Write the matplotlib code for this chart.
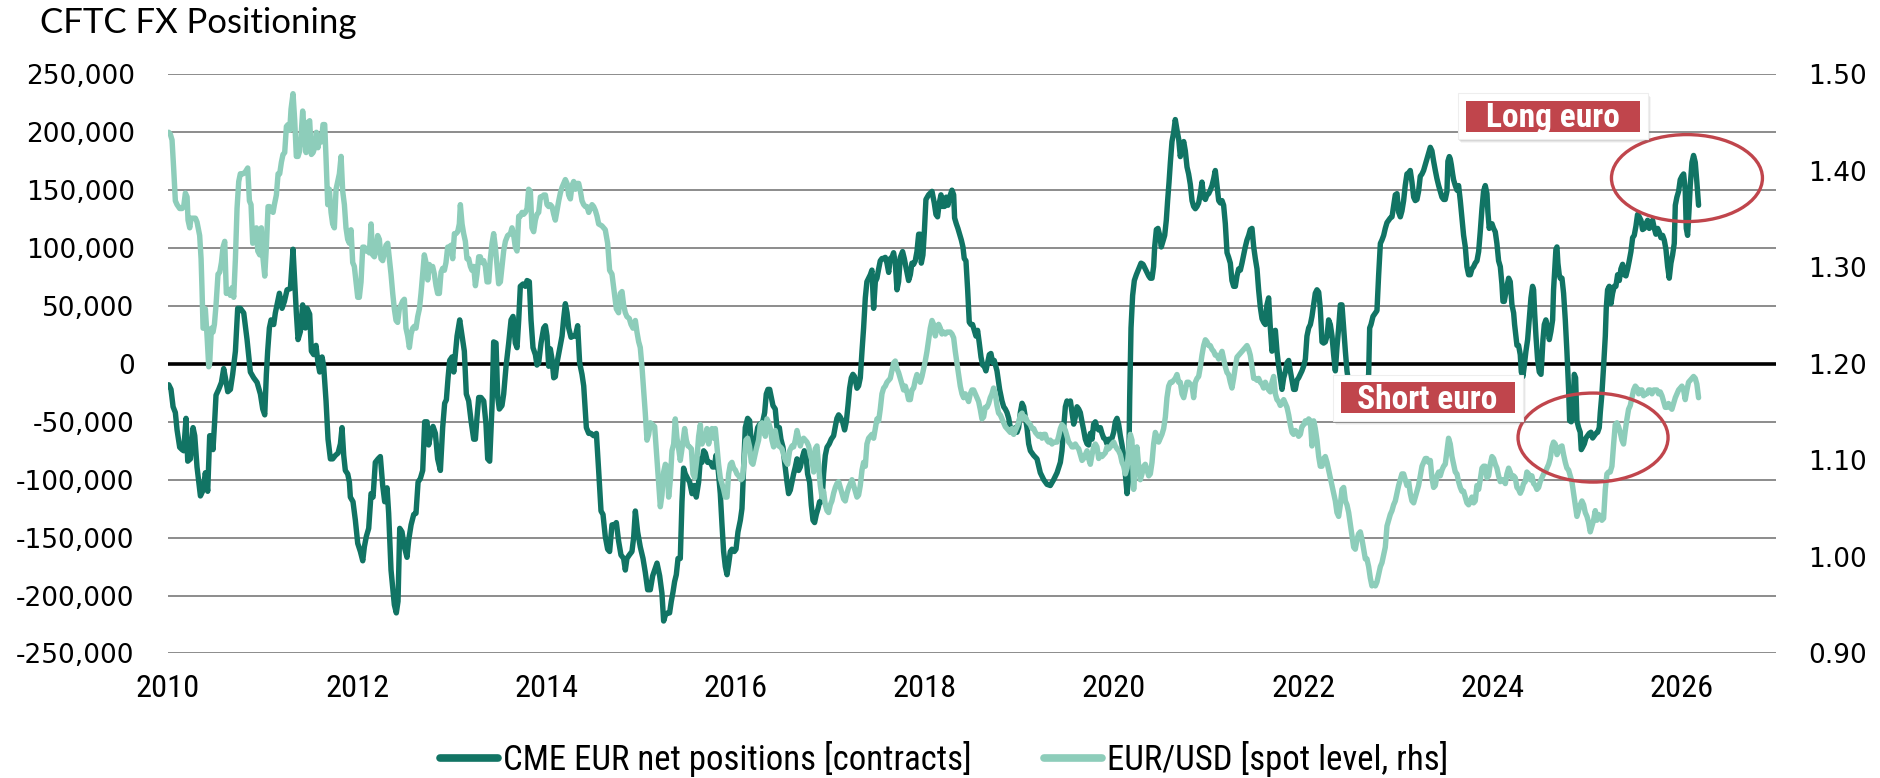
import matplotlib
matplotlib.use("Agg")
import matplotlib.pyplot as plt
from matplotlib import font_manager as fm
from matplotlib.font_manager import FontProperties
from matplotlib.patches import Rectangle, Ellipse
from matplotlib.lines import Line2D
from matplotlib.ticker import FuncFormatter

# ---------------- data ----------------
title = "CFTC FX Positioning"
series_labels = ["CME EUR net positions [contracts]", "EUR/USD [spot level, rhs]"]
year_ticks = list(range(2010, 2027, 2))
left_ticks = list(range(-250000, 250001, 50000))
right_ticks = [0.90, 1.00, 1.10, 1.20, 1.30, 1.40, 1.50]
annotations = ["Long euro", "Short euro"]

# CME EUR net positions, thousands of contracts (year fraction, value)
cme_net_k = [
(2010.008,-18),(2010.032,-22),(2010.054,-37),(2010.078,-42),(2010.096,-57),(2010.124,-72),(2010.149,-74),(2010.166,-75),
(2010.191,-47),(2010.209,-84),(2010.237,-82),(2010.265,-55),(2010.283,-62),(2010.307,-89),(2010.343,-114),(2010.371,-109),
(2010.395,-94),(2010.420,-110),(2010.441,-62),(2010.459,-62),(2010.476,-74),(2010.494,-49),(2010.508,-27),(2010.536,-22),
(2010.565,-16),(2010.589,-4),(2010.607,-12),(2010.632,-24),(2010.660,-22),(2010.684,-9),(2010.713,11),(2010.737,48),
(2010.765,48),(2010.801,44),(2010.836,21),(2010.871,-7),(2010.906,-12),(2010.942,-16),(2010.977,-26),(2011.002,-39),
(2011.023,-44),(2011.040,-9),(2011.054,11),(2011.072,31),(2011.090,38),(2011.118,34),(2011.135,44),(2011.153,51),
(2011.178,61),(2011.206,48),(2011.231,54),(2011.259,64),(2011.294,65),(2011.322,99),(2011.340,71),(2011.357,44),
(2011.375,21),(2011.400,28),(2011.424,51),(2011.453,31),(2011.470,48),(2011.498,43),(2011.516,11),(2011.541,8),
(2011.565,16),(2011.586,1),(2011.604,-7),(2011.629,6),(2011.646,-2),(2011.671,-32),(2011.692,-65),(2011.717,-82),
(2011.741,-82),(2011.770,-79),(2011.798,-77),(2011.823,-69),(2011.840,-55),(2011.858,-79),(2011.875,-92),(2011.900,-95),
(2011.918,-102),(2011.928,-115),(2011.956,-119),(2011.981,-135),(2012.006,-155),(2012.034,-162),(2012.059,-170),(2012.076,-158),
(2012.097,-149),(2012.122,-142),(2012.147,-112),(2012.168,-115),(2012.192,-85),(2012.221,-82),(2012.245,-80),(2012.270,-105),
(2012.291,-119),(2012.316,-107),(2012.333,-129),(2012.358,-178),(2012.393,-208),(2012.414,-215),(2012.432,-205),(2012.450,-142),
(2012.474,-145),(2012.499,-158),(2012.527,-167),(2012.545,-152),(2012.570,-139),(2012.598,-130),(2012.622,-129),(2012.644,-102),
(2012.668,-99),(2012.693,-92),(2012.714,-50),(2012.739,-50),(2012.756,-70),(2012.781,-59),(2012.802,-54),(2012.827,-60),
(2012.851,-82),(2012.880,-92),(2012.904,-55),(2012.925,-34),(2012.943,-31),(2012.961,-12),(2012.978,3),(2013.003,6),
(2013.021,-7),(2013.038,8),(2013.056,24),(2013.084,38),(2013.109,24),(2013.133,11),(2013.154,-26),(2013.179,-32),
(2013.204,-49),(2013.232,-65),(2013.250,-65),(2013.267,-46),(2013.285,-29),(2013.309,-29),(2013.338,-32),(2013.362,-52),
(2013.380,-82),(2013.401,-84),(2013.426,-36),(2013.443,19),(2013.468,18),(2013.486,-29),(2013.503,-39),(2013.531,-36),
(2013.549,-26),(2013.574,-2),(2013.602,18),(2013.627,38),(2013.648,41),(2013.672,18),(2013.690,14),(2013.708,38),
(2013.725,67),(2013.753,69),(2013.778,67),(2013.796,72),(2013.820,71),(2013.838,38),(2013.859,14),(2013.884,8),
(2013.901,-1),(2013.919,1),(2013.944,18),(2013.972,31),(2013.990,33),(2014.007,24),(2014.025,-2),(2014.042,13),
(2014.060,4),(2014.078,-12),(2014.095,-11),(2014.113,1),(2014.141,13),(2014.166,24),(2014.183,39),(2014.201,52),
(2014.219,44),(2014.236,31),(2014.261,23),(2014.282,24),(2014.307,24),(2014.331,33),(2014.352,1),(2014.377,-9),
(2014.395,-19),(2014.423,-55),(2014.448,-60),(2014.472,-60),(2014.500,-62),(2014.529,-60),(2014.553,-92),
(2014.578,-127),(2014.599,-130),(2014.623,-149),(2014.648,-160),(2014.669,-162),(2014.694,-139),(2014.719,-139),(2014.740,-137),
(2014.764,-153),(2014.789,-165),(2014.817,-168),(2014.835,-178),(2014.852,-168),(2014.877,-165),(2014.905,-162),(2014.923,-150),
(2014.941,-127),(2014.965,-145),(2014.993,-158),(2015.022,-168),(2015.046,-180),(2015.071,-195),(2015.099,-195),(2015.124,-183),
(2015.145,-178),(2015.170,-172),(2015.198,-183),(2015.222,-198),(2015.240,-222),(2015.258,-217),(2015.282,-215),(2015.303,-215),
(2015.321,-205),(2015.339,-197),(2015.356,-188),(2015.374,-182),(2015.392,-168),(2015.416,-168),(2015.434,-119),(2015.451,-90),
(2015.469,-95),(2015.494,-99),(2015.515,-102),(2015.540,-112),(2015.564,-105),(2015.585,-115),(2015.610,-102),(2015.628,-82),
(2015.645,-85),(2015.663,-75),(2015.681,-77),(2015.705,-85),(2015.733,-85),(2015.758,-89),(2015.776,-89),(2015.793,-79),
(2015.814,-89),(2015.839,-112),(2015.857,-139),(2015.874,-162),(2015.892,-175),(2015.910,-182),(2015.927,-173),(2015.945,-162),
(2015.962,-160),(2015.987,-162),(2016.005,-160),(2016.026,-145),(2016.051,-135),(2016.068,-125),(2016.086,-89),(2016.103,-55),
(2016.128,-47),(2016.149,-49),(2016.167,-69),(2016.191,-75),(2016.216,-64),(2016.234,-55),(2016.255,-52),(2016.272,-52),
(2016.290,-49),(2016.308,-42),(2016.325,-26),(2016.343,-22),(2016.361,-22),(2016.378,-29),(2016.396,-36),(2016.420,-39),
(2016.438,-55),(2016.463,-55),(2016.480,-65),(2016.502,-72),(2016.519,-85),(2016.544,-102),(2016.561,-112),(2016.579,-109),
(2016.597,-102),(2016.614,-95),(2016.632,-89),(2016.650,-82),(2016.667,-92),(2016.685,-89),(2016.709,-80),(2016.727,-75),
(2016.745,-79),(2016.762,-95),(2016.783,-102),(2016.801,-122),(2016.819,-135),(2016.836,-137),(2016.854,-130),(2016.872,-125),
(2016.889,-119),(2016.914,-119),(2016.931,-95),(2016.949,-79),(2016.967,-72),(2016.991,-69),(2017.012,-65),(2017.037,-62),
(2017.055,-54),(2017.072,-47),(2017.090,-44),(2017.108,-46),(2017.132,-50),(2017.153,-57),(2017.171,-50),(2017.189,-36),
(2017.206,-21),(2017.224,-12),(2017.241,-9),(2017.259,-11),(2017.284,-21),(2017.301,-19),(2017.319,-12),(2017.337,11),
(2017.354,31),(2017.372,57),(2017.389,71),(2017.407,74),(2017.425,77),(2017.442,81),(2017.460,48),(2017.478,71),
(2017.495,74),(2017.513,82),(2017.530,89),(2017.548,91),(2017.566,91),(2017.583,92),(2017.601,87),(2017.619,79),
(2017.636,91),(2017.654,92),(2017.671,96),(2017.689,87),(2017.707,64),(2017.724,71),(2017.742,92),(2017.766,97),
(2017.784,91),(2017.805,82),(2017.830,72),(2017.848,77),(2017.865,87),(2017.883,86),(2017.900,89),(2017.918,97),
(2017.936,112),(2017.953,112),(2017.964,87),(2017.981,94),(2017.996,114),(2018.013,142),(2018.041,146),(2018.077,149),
(2018.101,139),(2018.119,129),(2018.136,127),(2018.154,139),(2018.172,146),(2018.189,136),(2018.210,136),(2018.228,144),
(2018.246,137),(2018.263,144),(2018.288,150),(2018.306,146),(2018.316,126),(2018.334,121),(2018.351,117),(2018.369,112),
(2018.387,107),(2018.404,101),(2018.418,91),(2018.436,89),(2018.454,64),(2018.471,36),(2018.489,34),(2018.506,34),
(2018.524,29),(2018.542,24),(2018.559,29),(2018.577,18),(2018.595,6),(2018.612,-1),(2018.630,-2),(2018.647,-6),
(2018.665,1),(2018.683,8),(2018.700,9),(2018.718,1),(2018.735,3),(2018.764,-6),(2018.792,-22),
(2018.817,-32),(2018.835,-37),(2018.852,-39),(2018.870,-42),(2018.888,-47),(2018.905,-55),(2018.923,-59),(2018.941,-60),
(2018.958,-55),(2018.976,-59),(2018.993,-55),(2019.011,-42),(2019.029,-34),(2019.046,-37),(2019.064,-46),(2019.081,-55),
(2019.099,-69),(2019.117,-75),(2019.152,-79),(2019.187,-82),(2019.222,-94),(2019.258,-100),(2019.293,-104),(2019.328,-105),
(2019.363,-100),(2019.399,-94),(2019.434,-85),(2019.451,-75),(2019.469,-55),(2019.487,-37),(2019.504,-32),(2019.522,-34),
(2019.540,-32),(2019.557,-42),(2019.575,-52),(2019.592,-46),(2019.610,-37),(2019.628,-39),(2019.645,-42),(2019.663,-50),
(2019.680,-57),(2019.698,-65),(2019.716,-69),(2019.733,-70),(2019.751,-60),(2019.769,-65),(2019.786,-52),(2019.804,-50),
(2019.821,-55),(2019.839,-57),(2019.857,-55),(2019.874,-60),(2019.892,-64),(2019.910,-65),(2019.927,-69),(2019.945,-65),
(2019.962,-67),(2019.980,-64),(2019.998,-59),(2020.015,-50),(2020.033,-47),(2020.050,-52),(2020.068,-62),(2020.086,-70),
(2020.103,-79),(2020.121,-95),(2020.139,-112),(2020.156,-99),(2020.167,-29),(2020.181,31),(2020.198,59),(2020.216,72),
(2020.237,77),(2020.262,82),(2020.287,87),(2020.308,86),(2020.332,82),(2020.350,79),(2020.368,76),(2020.385,74),
(2020.403,74),(2020.420,84),(2020.431,101),(2020.449,116),(2020.466,117),(2020.484,111),(2020.501,101),(2020.519,106),
(2020.537,111),(2020.554,124),(2020.568,141),(2020.583,157),(2020.597,174),(2020.614,192),(2020.632,200),(2020.649,211),
(2020.667,202),(2020.685,194),(2020.702,179),(2020.720,187),(2020.738,192),(2020.755,184),(2020.773,170),(2020.790,164),
(2020.808,155),(2020.826,141),(2020.843,136),(2020.861,134),(2020.879,136),(2020.896,139),(2020.914,147),(2020.931,157),
(2020.949,144),(2020.967,142),(2020.984,146),(2021.002,147),(2021.019,150),(2021.037,154),(2021.055,160),(2021.072,167),
(2021.090,154),(2021.108,141),(2021.125,139),(2021.143,141),(2021.160,137),(2021.178,121),(2021.196,96),(2021.213,92),
(2021.231,87),(2021.248,72),(2021.266,67),(2021.284,67),(2021.301,76),(2021.319,82),(2021.337,81),(2021.354,87),
(2021.372,94),(2021.389,101),(2021.407,107),(2021.425,111),(2021.442,116),(2021.460,117),(2021.478,101),(2021.495,91),
(2021.513,82),(2021.530,64),(2021.548,49),(2021.566,39),(2021.583,36),(2021.601,34),(2021.618,51),(2021.636,57),
(2021.654,31),(2021.671,11),(2021.689,28),(2021.707,29),(2021.724,11),(2021.742,-2),(2021.759,-12),(2021.777,-22),
(2021.795,-12),(2021.812,-7),(2021.830,1),(2021.848,3),(2021.865,-6),(2021.883,-14),(2021.900,-22),(2021.918,-22),
(2021.936,-14),(2021.953,-12),(2021.971,-9),(2021.988,-6),(2022.006,-2),(2022.024,4),(2022.041,24),(2022.059,31),
(2022.077,34),(2022.094,41),(2022.112,51),(2022.129,61),(2022.147,64),(2022.165,62),(2022.182,48),(2022.200,19),
(2022.217,18),(2022.235,19),(2022.253,24),(2022.270,38),(2022.288,34),(2022.306,24),(2022.323,8),(2022.341,-6),
(2022.358,14),(2022.376,31),(2022.394,51),(2022.411,51),(2022.429,31),(2022.447,11),(2022.464,-6),(2022.499,-26),
(2022.570,-36),(2022.640,-29),(2022.693,-9),(2022.704,31),(2022.718,34),(2022.739,41),(2022.764,44),(2022.781,46),
(2022.799,77),(2022.817,104),(2022.834,107),(2022.852,111),(2022.869,117),(2022.887,122),(2022.905,124),(2022.922,126),
(2022.940,127),(2022.957,136),(2022.975,146),(2022.993,147),(2023.010,131),
(2023.028,127),(2023.045,132),(2023.063,141),(2023.080,154),(2023.098,164),(2023.116,165),(2023.133,167),(2023.151,157),
(2023.169,144),(2023.186,141),(2023.204,142),(2023.221,149),(2023.239,162),(2023.257,164),(2023.274,167),(2023.292,172),
(2023.309,177),(2023.327,182),(2023.345,187),(2023.362,184),(2023.380,175),(2023.398,167),(2023.415,160),(2023.433,154),
(2023.450,149),(2023.468,144),(2023.486,142),(2023.503,142),(2023.521,149),(2023.531,175),(2023.546,179),(2023.556,177),
(2023.567,172),(2023.581,164),(2023.591,159),(2023.609,154),(2023.627,150),(2023.644,154),(2023.662,141),(2023.679,126),
(2023.697,111),(2023.715,101),(2023.732,84),(2023.750,77),(2023.768,77),(2023.785,82),(2023.803,84),(2023.820,87),
(2023.838,89),(2023.856,97),(2023.873,114),(2023.891,134),(2023.908,149),(2023.926,154),(2023.944,147),(2023.954,131),
(2023.968,117),(2023.979,121),(2023.997,121),(2024.014,117),(2024.032,114),(2024.049,104),(2024.067,89),(2024.085,84),
(2024.102,69),(2024.113,54),(2024.127,54),(2024.138,59),(2024.155,67),(2024.173,74),(2024.190,71),(2024.208,51),
(2024.226,44),(2024.236,34),(2024.250,24),(2024.261,16),(2024.278,16),(2024.296,8),(2024.307,-7),(2024.324,-11),
(2024.338,-2),(2024.356,11),(2024.374,21),(2024.391,38),(2024.409,57),(2024.426,67),(2024.437,64),(2024.448,44),
(2024.462,24),(2024.479,4),(2024.497,-7),(2024.515,-9),(2024.525,4),(2024.536,21),(2024.550,34),(2024.567,38),
(2024.585,31),(2024.603,21),(2024.620,28),(2024.638,38),(2024.648,64),(2024.663,86),(2024.673,99),(2024.684,101),
(2024.694,87),(2024.708,77),(2024.719,74),(2024.737,74),(2024.754,61),(2024.772,38),(2024.789,11),(2024.807,-22),
(2024.818,-49),(2024.835,-50),(2024.853,-42),(2024.867,-9),(2024.881,-12),(2024.895,-49),(2024.913,-55),(2024.930,-59),
(2024.941,-74),(2024.955,-72),(2024.973,-69),(2024.990,-64),(2025.008,-62),(2025.025,-60),(2025.043,-59),(2025.061,-64),
(2025.078,-62),(2025.096,-60),(2025.114,-59),(2025.131,-55),(2025.142,-42),(2025.159,-26),(2025.177,-2),(2025.195,24),
(2025.205,48),(2025.219,64),(2025.237,67),(2025.255,52),(2025.272,61),(2025.290,67),(2025.307,67),(2025.325,77),
(2025.343,72),(2025.360,82),(2025.378,86),(2025.395,77),(2025.413,76),(2025.431,82),(2025.448,89),(2025.466,97),
(2025.484,109),(2025.501,111),(2025.519,119),(2025.536,129),(2025.554,127),(2025.572,124),(2025.589,116),(2025.607,117),
(2025.624,121),(2025.642,124),(2025.660,117),(2025.677,121),(2025.695,124),(2025.713,117),(2025.730,112),(2025.748,117),
(2025.765,114),(2025.783,109),(2025.801,111),(2025.818,107),(2025.836,99),(2025.854,84),(2025.871,74),(2025.889,87),
(2025.906,94),(2025.924,104),(2025.935,137),(2025.952,144),(2025.970,149),(2025.987,159),(2026.005,162),(2026.023,164),
(2026.040,150),(2026.051,117),(2026.065,111),(2026.079,131),(2026.093,154),(2026.111,174),(2026.128,180),(2026.146,174),
(2026.163,157),(2026.181,137),
]

# EUR/USD spot (year fraction, rate)
eur_usd = [
(2010.008,1.440),(2010.025,1.438),(2010.043,1.432),(2010.061,1.401),(2010.078,1.369),(2010.096,1.365),(2010.124,1.361),(2010.149,1.361),
(2010.166,1.363),(2010.184,1.377),(2010.202,1.373),(2010.212,1.349),(2010.230,1.341),(2010.244,1.351),(2010.265,1.351),(2010.290,1.351),
(2010.307,1.347),(2010.335,1.333),(2010.350,1.309),(2010.360,1.277),(2010.371,1.237),(2010.385,1.237),(2010.395,1.257),(2010.413,1.229),
(2010.431,1.197),(2010.441,1.201),(2010.459,1.237),(2010.476,1.233),(2010.491,1.241),(2010.508,1.261),(2010.529,1.293),(2010.547,1.295),
(2010.565,1.305),(2010.582,1.321),(2010.600,1.327),(2010.617,1.273),(2010.635,1.277),(2010.660,1.271),(2010.677,1.279),(2010.695,1.269),
(2010.713,1.309),(2010.730,1.361),(2010.748,1.389),(2010.765,1.397),(2010.794,1.397),(2010.818,1.399),(2010.843,1.403),(2010.861,1.369),
(2010.878,1.365),(2010.896,1.325),(2010.913,1.329),(2010.935,1.341),(2010.949,1.317),(2010.970,1.313),(2010.987,1.341),(2011.005,1.309),
(2011.023,1.291),(2011.040,1.321),(2011.058,1.363),(2011.075,1.363),(2011.093,1.359),(2011.111,1.357),(2011.125,1.365),(2011.146,1.375),
(2011.164,1.397),(2011.181,1.397),(2011.199,1.409),(2011.216,1.417),(2011.234,1.419),(2011.252,1.446),(2011.269,1.448),(2011.287,1.442),
(2011.301,1.464),(2011.322,1.480),(2011.340,1.452),(2011.357,1.415),(2011.375,1.415),(2011.393,1.421),(2011.407,1.436),(2011.424,1.462),
(2011.442,1.440),(2011.460,1.419),(2011.477,1.450),(2011.498,1.452),(2011.516,1.417),(2011.534,1.419),(2011.551,1.424),(2011.569,1.440),
(2011.586,1.424),(2011.604,1.436),(2011.622,1.430),(2011.639,1.448),(2011.657,1.448),(2011.671,1.413),(2011.689,1.365),(2011.706,1.381),
(2011.724,1.357),(2011.741,1.345),(2011.759,1.341),(2011.777,1.381),(2011.794,1.389),(2011.812,1.397),(2011.830,1.415),(2011.847,1.379),
(2011.865,1.365),(2011.882,1.341),(2011.900,1.329),(2011.918,1.325),(2011.935,1.339),(2011.953,1.305),(2011.970,1.301),(2011.988,1.285),
(2012.006,1.269),(2012.023,1.269),(2012.041,1.285),(2012.059,1.321),(2012.076,1.321),(2012.094,1.317),(2012.111,1.319),(2012.129,1.315),
(2012.147,1.345),(2012.164,1.313),(2012.182,1.311),(2012.200,1.317),(2012.217,1.333),(2012.235,1.329),(2012.252,1.309),(2012.270,1.307),
(2012.288,1.315),(2012.305,1.323),(2012.323,1.325),(2012.340,1.309),(2012.358,1.293),(2012.376,1.273),(2012.393,1.257),(2012.411,1.245),
(2012.428,1.243),(2012.446,1.257),(2012.464,1.261),(2012.481,1.265),(2012.499,1.267),(2012.516,1.237),(2012.534,1.229),(2012.552,1.217),
(2012.570,1.231),(2012.587,1.237),(2012.605,1.239),(2012.622,1.237),(2012.640,1.249),(2012.658,1.257),(2012.675,1.273),(2012.693,1.293),
(2012.710,1.313),(2012.728,1.305),(2012.746,1.287),(2012.763,1.303),(2012.781,1.299),(2012.798,1.301),(2012.816,1.293),(2012.834,1.281),
(2012.851,1.273),(2012.869,1.273),(2012.887,1.295),(2012.904,1.299),(2012.922,1.297),(2012.939,1.305),(2012.957,1.321),(2012.975,1.321),
(2012.992,1.323),(2013.010,1.309),(2013.028,1.335),(2013.045,1.335),(2013.063,1.337),(2013.080,1.345),(2013.091,1.365),(2013.109,1.345),
(2013.126,1.335),(2013.144,1.327),(2013.161,1.309),(2013.179,1.309),(2013.197,1.301),(2013.214,1.297),(2013.232,1.301),(2013.250,1.281),
(2013.267,1.293),(2013.285,1.311),(2013.302,1.311),(2013.320,1.305),(2013.338,1.307),(2013.355,1.301),(2013.373,1.285),(2013.391,1.285),
(2013.408,1.309),(2013.426,1.325),(2013.443,1.335),(2013.461,1.321),(2013.479,1.301),(2013.496,1.283),(2013.514,1.285),(2013.531,1.301),
(2013.549,1.317),(2013.567,1.327),(2013.591,1.333),(2013.620,1.335),(2013.637,1.341),(2013.655,1.333),(2013.672,1.321),(2013.690,1.317),
(2013.708,1.353),(2013.725,1.353),(2013.743,1.357),(2013.760,1.355),(2013.778,1.357),(2013.796,1.361),(2013.813,1.381),(2013.831,1.379),
(2013.848,1.341),(2013.866,1.337),(2013.884,1.349),(2013.901,1.355),(2013.919,1.357),(2013.937,1.373),(2013.954,1.373),(2013.972,1.375),
(2013.990,1.375),(2014.007,1.365),(2014.025,1.363),(2014.042,1.365),(2014.060,1.363),(2014.078,1.355),(2014.095,1.349),(2014.113,1.359),
(2014.131,1.369),(2014.148,1.377),(2014.166,1.383),(2014.183,1.387),(2014.201,1.391),(2014.219,1.387),(2014.236,1.375),(2014.254,1.371),
(2014.272,1.385),(2014.289,1.389),(2014.307,1.381),(2014.324,1.387),(2014.342,1.387),(2014.360,1.379),(2014.377,1.369),(2014.395,1.365),
(2014.413,1.363),(2014.430,1.363),(2014.448,1.357),(2014.465,1.361),(2014.483,1.365),(2014.500,1.363),(2014.518,1.359),(2014.536,1.353),
(2014.553,1.345),(2014.588,1.343),(2014.623,1.339),(2014.648,1.325),(2014.669,1.297),(2014.694,1.293),(2014.719,1.273),(2014.740,1.257),
(2014.764,1.253),(2014.782,1.273),(2014.800,1.275),(2014.817,1.261),(2014.835,1.253),(2014.852,1.249),(2014.877,1.247),(2014.895,1.241),
(2014.916,1.237),(2014.941,1.245),(2014.958,1.233),(2014.976,1.223),(2014.993,1.217),(2015.011,1.197),(2015.029,1.173),(2015.046,1.149),
(2015.064,1.121),(2015.082,1.127),(2015.099,1.139),(2015.124,1.137),(2015.145,1.135),(2015.163,1.110),(2015.187,1.078),(2015.205,1.052),
(2015.222,1.064),(2015.240,1.088),(2015.258,1.096),(2015.275,1.094),(2015.293,1.062),(2015.311,1.080),(2015.328,1.110),(2015.346,1.117),
(2015.363,1.143),(2015.381,1.123),(2015.399,1.112),(2015.416,1.100),(2015.441,1.117),(2015.462,1.133),(2015.480,1.121),(2015.497,1.115),
(2015.515,1.114),(2015.533,1.112),(2015.550,1.086),(2015.568,1.082),(2015.592,1.102),(2015.610,1.125),(2015.628,1.137),(2015.645,1.117),
(2015.663,1.121),(2015.681,1.123),(2015.698,1.133),(2015.716,1.117),(2015.733,1.127),(2015.751,1.133),(2015.769,1.123),(2015.786,1.133),
(2015.804,1.114),(2015.821,1.096),(2015.839,1.082),(2015.857,1.076),(2015.874,1.070),(2015.892,1.062),(2015.910,1.062),(2015.927,1.086),
(2015.945,1.096),(2015.962,1.098),(2015.980,1.092),(2015.998,1.090),(2016.015,1.086),(2016.033,1.084),(2016.058,1.080),(2016.075,1.082),
(2016.093,1.102),(2016.110,1.121),(2016.128,1.123),(2016.149,1.114),(2016.167,1.098),(2016.184,1.096),(2016.202,1.104),(2016.220,1.112),
(2016.244,1.121),(2016.262,1.137),(2016.280,1.139),(2016.297,1.133),(2016.315,1.125),(2016.332,1.143),(2016.350,1.139),(2016.368,1.133),
(2016.385,1.121),(2016.403,1.114),(2016.420,1.131),(2016.438,1.121),(2016.456,1.115),(2016.473,1.114),(2016.491,1.112),(2016.509,1.106),
(2016.526,1.100),(2016.551,1.096),(2016.572,1.110),(2016.597,1.115),(2016.614,1.114),(2016.632,1.121),(2016.650,1.131),(2016.667,1.123),
(2016.685,1.115),(2016.702,1.121),(2016.720,1.123),(2016.738,1.121),(2016.755,1.119),(2016.773,1.115),(2016.790,1.106),(2016.808,1.100),
(2016.826,1.088),(2016.843,1.112),(2016.861,1.115),(2016.879,1.094),(2016.896,1.074),(2016.914,1.062),(2016.931,1.068),(2016.949,1.054),
(2016.967,1.048),(2016.984,1.046),(2017.002,1.054),(2017.019,1.058),(2017.037,1.066),(2017.055,1.072),(2017.072,1.076),(2017.090,1.078),
(2017.108,1.072),(2017.125,1.066),(2017.143,1.060),(2017.160,1.058),(2017.178,1.066),(2017.196,1.072),(2017.213,1.076),(2017.231,1.080),
(2017.249,1.074),(2017.266,1.068),(2017.284,1.062),(2017.301,1.064),(2017.319,1.074),(2017.337,1.090),(2017.354,1.098),(2017.372,1.094),
(2017.389,1.117),(2017.407,1.123),(2017.425,1.125),(2017.442,1.127),(2017.460,1.123),(2017.478,1.133),(2017.495,1.143),(2017.513,1.141),
(2017.530,1.153),(2017.548,1.169),(2017.566,1.175),(2017.583,1.177),(2017.601,1.181),(2017.619,1.183),(2017.636,1.185),(2017.654,1.193),
(2017.671,1.201),(2017.689,1.203),(2017.707,1.195),(2017.724,1.191),(2017.742,1.185),(2017.759,1.179),(2017.777,1.173),(2017.795,1.177),
(2017.812,1.171),(2017.830,1.163),(2017.848,1.163),(2017.865,1.173),(2017.883,1.175),(2017.900,1.183),(2017.918,1.189),(2017.936,1.185),
(2017.953,1.181),(2017.971,1.187),(2017.988,1.195),(2018.006,1.203),(2018.024,1.213),(2018.041,1.225),(2018.059,1.237),(2018.077,1.245),
(2018.094,1.241),(2018.112,1.229),(2018.129,1.237),(2018.147,1.241),(2018.165,1.237),(2018.182,1.231),(2018.200,1.233),(2018.218,1.231),
(2018.235,1.233),(2018.253,1.233),(2018.270,1.233),(2018.288,1.231),(2018.306,1.227),(2018.323,1.213),(2018.341,1.201),(2018.358,1.189),
(2018.376,1.177),(2018.394,1.169),(2018.411,1.165),(2018.429,1.169),(2018.447,1.165),(2018.464,1.161),(2018.482,1.169),(2018.499,1.173),
(2018.517,1.173),(2018.535,1.169),(2018.552,1.165),(2018.570,1.161),(2018.587,1.153),(2018.605,1.143),(2018.623,1.145),(2018.640,1.155),
(2018.658,1.155),(2018.676,1.159),(2018.693,1.165),(2018.711,1.169),(2018.728,1.175),(2018.746,1.169),(2018.764,1.157),(2018.781,1.149),
(2018.800,1.147),(2018.817,1.143),(2018.835,1.139),(2018.852,1.135),(2018.870,1.133),(2018.888,1.131),(2018.905,1.129),(2018.923,1.133),
(2018.941,1.127),(2018.958,1.131),(2018.976,1.135),(2018.993,1.139),(2019.011,1.147),(2019.029,1.149),(2019.046,1.143),(2019.064,1.145),
(2019.081,1.141),(2019.099,1.139),(2019.117,1.137),(2019.134,1.133),(2019.152,1.133),(2019.170,1.129),(2019.187,1.127),(2019.205,1.125),
(2019.222,1.127),(2019.240,1.123),(2019.258,1.127),(2019.275,1.127),(2019.293,1.121),(2019.310,1.119),(2019.328,1.121),(2019.346,1.117),
(2019.363,1.119),(2019.381,1.119),(2019.399,1.119),(2019.416,1.125),(2019.434,1.133),(2019.451,1.137),(2019.469,1.135),(2019.487,1.131),
(2019.504,1.125),(2019.522,1.119),(2019.540,1.117),(2019.557,1.114),(2019.575,1.114),(2019.592,1.117),(2019.610,1.114),(2019.628,1.112),
(2019.645,1.106),(2019.663,1.100),(2019.680,1.102),(2019.698,1.106),(2019.716,1.110),(2019.733,1.102),(2019.751,1.096),(2019.769,1.106),
(2019.786,1.114),(2019.804,1.117),(2019.821,1.114),(2019.839,1.102),(2019.857,1.106),(2019.874,1.104),(2019.892,1.106),(2019.910,1.108),
(2019.927,1.114),(2019.945,1.112),(2019.962,1.114),(2019.980,1.117),(2019.998,1.119),(2020.015,1.115),(2020.033,1.112),(2020.050,1.110),
(2020.068,1.106),(2020.086,1.098),(2020.103,1.094),(2020.121,1.086),(2020.139,1.092),(2020.156,1.110),(2020.174,1.127),(2020.191,1.121),
(2020.209,1.070),(2020.227,1.102),(2020.244,1.114),(2020.262,1.094),(2020.279,1.080),(2020.297,1.086),(2020.315,1.094),(2020.332,1.096),
(2020.350,1.090),(2020.368,1.084),(2020.385,1.086),(2020.403,1.098),(2020.420,1.117),(2020.438,1.129),(2020.455,1.125),(2020.473,1.119),
(2020.491,1.123),(2020.508,1.127),(2020.526,1.133),(2020.544,1.145),(2020.561,1.165),(2020.579,1.177),(2020.597,1.181),(2020.614,1.181),
(2020.632,1.183),(2020.649,1.185),(2020.667,1.189),(2020.685,1.181),(2020.702,1.181),(2020.720,1.169),(2020.738,1.165),(2020.755,1.173),
(2020.773,1.181),(2020.790,1.181),(2020.808,1.179),(2020.826,1.177),(2020.843,1.165),(2020.861,1.181),(2020.879,1.185),(2020.896,1.187),
(2020.914,1.197),(2020.931,1.209),(2020.949,1.219),(2020.967,1.225),(2020.984,1.223),(2021.002,1.219),(2021.019,1.219),(2021.037,1.215),
(2021.055,1.213),(2021.072,1.209),(2021.090,1.209),(2021.108,1.205),(2021.125,1.209),(2021.143,1.213),(2021.160,1.205),(2021.178,1.197),
(2021.196,1.191),(2021.213,1.189),(2021.231,1.181),(2021.248,1.175),(2021.266,1.185),(2021.284,1.197),(2021.301,1.207),(2021.319,1.209),
(2021.337,1.211),(2021.354,1.213),(2021.372,1.215),(2021.389,1.217),(2021.407,1.219),(2021.425,1.215),(2021.442,1.209),(2021.460,1.197),
(2021.478,1.185),(2021.495,1.185),(2021.513,1.183),(2021.530,1.185),(2021.548,1.181),(2021.566,1.179),(2021.583,1.175),(2021.601,1.181),
(2021.618,1.177),(2021.636,1.173),(2021.654,1.171),(2021.671,1.181),(2021.689,1.187),(2021.707,1.169),(2021.724,1.163),(2021.742,1.161),
(2021.759,1.157),(2021.777,1.159),(2021.795,1.163),(2021.812,1.159),(2021.830,1.155),(2021.848,1.147),(2021.865,1.137),(2021.883,1.129),
(2021.900,1.127),(2021.918,1.131),(2021.936,1.129),(2021.953,1.125),(2021.971,1.127),(2021.988,1.135),(2022.006,1.137),(2022.024,1.141),
(2022.041,1.139),(2022.059,1.143),(2022.077,1.141),(2022.094,1.115),(2022.112,1.141),(2022.129,1.133),(2022.147,1.121),(2022.165,1.104),
(2022.182,1.094),(2022.200,1.094),(2022.217,1.102),(2022.235,1.104),(2022.253,1.098),(2022.270,1.090),(2022.288,1.082),(2022.306,1.074),
(2022.323,1.066),(2022.341,1.058),(2022.358,1.046),(2022.376,1.042),(2022.394,1.054),(2022.411,1.070),(2022.429,1.072),(2022.447,1.058),
(2022.464,1.054),(2022.482,1.046),(2022.499,1.034),(2022.517,1.022),(2022.535,1.010),(2022.552,1.008),(2022.570,1.018),(2022.587,1.024),
(2022.605,1.026),(2022.623,1.018),(2022.640,1.008),(2022.658,0.998),(2022.675,0.998),(2022.693,0.990),(2022.711,0.978),(2022.728,0.970),
(2022.746,0.972),(2022.764,0.970),(2022.781,0.974),(2022.799,0.982),(2022.817,0.990),(2022.834,0.994),(2022.852,1.002),(2022.869,1.010),
(2022.887,1.032),(2022.905,1.038),(2022.922,1.044),(2022.940,1.048),(2022.957,1.054),(2022.975,1.058),(2022.993,1.066),(2023.010,1.074),
(2023.028,1.080),(2023.045,1.086),(2023.063,1.086),(2023.080,1.080),(2023.098,1.074),(2023.116,1.078),(2023.133,1.066),(2023.151,1.058),
(2023.169,1.056),(2023.186,1.062),(2023.204,1.068),(2023.221,1.074),(2023.239,1.084),(2023.257,1.094),(2023.274,1.098),(2023.292,1.102),
(2023.309,1.102),(2023.327,1.098),(2023.345,1.100),(2023.362,1.082),(2023.380,1.072),(2023.398,1.074),(2023.415,1.084),(2023.433,1.088),
(2023.450,1.084),(2023.468,1.090),(2023.486,1.094),(2023.503,1.096),(2023.521,1.110),(2023.538,1.123),(2023.556,1.117),(2023.574,1.104),
(2023.591,1.096),(2023.609,1.088),(2023.627,1.086),(2023.644,1.078),(2023.662,1.072),(2023.679,1.068),(2023.697,1.068),(2023.715,1.062),
(2023.732,1.056),(2023.750,1.054),(2023.768,1.058),(2023.785,1.062),(2023.803,1.056),(2023.820,1.058),(2023.838,1.074),(2023.856,1.070),
(2023.873,1.080),(2023.891,1.092),(2023.908,1.094),(2023.926,1.094),(2023.944,1.082),(2023.961,1.084),(2023.979,1.096),(2023.997,1.104),
(2024.014,1.102),(2024.032,1.096),(2024.049,1.092),(2024.067,1.084),(2024.085,1.078),(2024.102,1.080),(2024.120,1.080),(2024.138,1.076),
(2024.155,1.086),(2024.173,1.092),(2024.190,1.088),(2024.208,1.082),(2024.226,1.084),(2024.243,1.082),(2024.261,1.072),(2024.278,1.070),
(2024.296,1.066),(2024.314,1.070),(2024.331,1.076),(2024.349,1.078),(2024.366,1.088),(2024.384,1.086),(2024.402,1.080),(2024.419,1.084),
(2024.437,1.076),(2024.455,1.074),(2024.472,1.070),(2024.490,1.072),(2024.507,1.078),(2024.525,1.082),(2024.543,1.086),(2024.560,1.088),
(2024.578,1.092),(2024.596,1.096),(2024.613,1.102),(2024.631,1.114),(2024.648,1.119),(2024.666,1.117),(2024.684,1.106),(2024.701,1.110),
(2024.719,1.114),(2024.737,1.115),(2024.754,1.106),(2024.772,1.098),(2024.789,1.092),(2024.807,1.090),(2024.825,1.084),(2024.842,1.078),
(2024.860,1.066),(2024.877,1.054),(2024.895,1.042),(2024.913,1.048),(2024.930,1.054),(2024.948,1.058),(2024.966,1.054),(2024.983,1.046),
(2025.001,1.042),(2025.018,1.036),(2025.036,1.026),(2025.054,1.032),(2025.071,1.038),(2025.089,1.048),(2025.106,1.038),(2025.124,1.044),
(2025.142,1.042),(2025.159,1.038),(2025.177,1.040),(2025.195,1.070),(2025.212,1.086),(2025.230,1.088),(2025.247,1.088),(2025.265,1.094),
(2025.283,1.117),(2025.300,1.137),(2025.318,1.139),(2025.335,1.135),(2025.353,1.129),(2025.371,1.121),(2025.388,1.117),(2025.406,1.131),
(2025.424,1.143),(2025.441,1.153),(2025.459,1.157),(2025.476,1.165),(2025.494,1.173),(2025.512,1.177),(2025.529,1.175),(2025.547,1.169),
(2025.564,1.173),(2025.582,1.173),(2025.600,1.167),(2025.617,1.169),(2025.635,1.169),(2025.653,1.173),(2025.670,1.173),(2025.688,1.169),
(2025.706,1.173),(2025.723,1.173),(2025.741,1.173),(2025.758,1.169),(2025.776,1.171),(2025.794,1.167),(2025.811,1.161),(2025.829,1.155),
(2025.846,1.155),(2025.864,1.159),(2025.882,1.155),(2025.899,1.153),(2025.917,1.159),(2025.935,1.165),(2025.952,1.169),(2025.970,1.173),
(2025.987,1.175),(2026.005,1.177),(2026.023,1.173),(2026.040,1.163),(2026.058,1.173),(2026.075,1.181),(2026.093,1.183),(2026.111,1.185),
(2026.128,1.187),(2026.146,1.185),(2026.163,1.179),(2026.181,1.165),
]

# ---------------- styling ----------------
DARK = "#117464"
LIGHT = "#8DCDBA"
RED = "#C0454C"
GRID = "#8C8C8C"
TITLE_FONT = ["Lato", "DejaVu Sans"]

plt.rcParams["font.family"] = ["DejaVu Sans"]


def pick_narrow_font():
    """Find a condensed sans font if one is installed, else fall back."""
    entries = fm.fontManager.ttflist
    names = {f.name for f in entries}
    for nm in ("Liberation Sans Narrow", "Roboto Condensed", "DejaVu Sans Condensed",
               "Noto Sans Condensed", "Open Sans Condensed"):
        if nm in names:
            return nm, "normal"
    for nm in ("Noto Sans", "DejaVu Sans", "Open Sans", "Roboto", "Inter"):
        for f in entries:
            if f.name == nm and str(f.stretch) in ("condensed", "semi-condensed"):
                return nm, str(f.stretch)
    return "Lato", "normal"


NARROW_NAME, NARROW_STRETCH = pick_narrow_font()


def narrow_fp(size, weight="normal"):
    return FontProperties(family=[NARROW_NAME, "DejaVu Sans"], stretch=NARROW_STRETCH,
                          size=size, weight=weight)


fig = plt.figure(figsize=(18.81, 7.78), dpi=100)
renderer = fig.canvas.get_renderer()


def fit_size(text, target_px, weight="normal", base=20.0):
    t = fig.text(0, 0, text, fontproperties=narrow_fp(base, weight))
    w = t.get_window_extent(renderer).width
    t.remove()
    return base * target_px / w


legend_size = fit_size(series_labels[0], 466)
xtick_size = fit_size("2010", 64)
box_size = fit_size(annotations[0], 134, weight="bold")

ax = fig.add_axes([0.0893, 0.1601, 0.8549, 0.7443])
ax2 = ax.twinx()

net_x = [p[0] for p in cme_net_k]
net_y = [p[1] * 1000 for p in cme_net_k]
fx_x = [p[0] for p in eur_usd]
fx_y = [p[1] for p in eur_usd]

ax.plot(net_x, net_y, color=DARK, lw=3.9, solid_joinstyle="round",
        solid_capstyle="round", zorder=3)
ax2.plot(fx_x, fx_y, color=LIGHT, lw=3.9, solid_joinstyle="round",
         solid_capstyle="round", zorder=3)

ax.axhline(0, color="black", lw=2.6, zorder=2)

ax.set_xlim(2010, 2027)
ax.set_ylim(-250000, 250000)
ax2.set_ylim(0.90, 1.50)

ax.set_yticks(left_ticks)
ax.yaxis.set_major_formatter(FuncFormatter(lambda v, p: f"{int(round(v)):,}"))
ax.grid(axis="y", color=GRID, lw=1.4, zorder=1)
ax.set_axisbelow(True)
ax.set_xticks(year_ticks)
ax.set_xticklabels([str(y) for y in year_ticks], fontproperties=narrow_fp(xtick_size))

ax2.set_yticks(right_ticks)
ax2.yaxis.set_major_formatter(FuncFormatter(lambda v, p: f"{v:.2f}"))

ax.tick_params(axis="y", length=0, labelsize=19, pad=24)
ax.tick_params(axis="x", length=0, pad=15)
ax2.tick_params(axis="y", length=0, labelsize=19, pad=23)

for a in (ax, ax2):
    for s in a.spines.values():
        s.set_visible(False)

# ---------------- title ----------------
fig.text(40 / 1881, 1 - 33 / 778, title, fontsize=25, family=TITLE_FONT,
         ha="left", va="baseline")

# ---------------- legend ----------------
em_px = legend_size * 100 / 72.0
handles = [Line2D([], [], color=DARK, lw=5.5, solid_capstyle="round"),
           Line2D([], [], color=LIGHT, lw=5.5, solid_capstyle="round")]
fig.legend(handles, series_labels, loc="center", bbox_to_anchor=(0.5019, 0.0244),
           ncol=2, frameon=False, prop=narrow_fp(legend_size),
           handlelength=58 / em_px, handletextpad=5 / em_px, columnspacing=72 / em_px,
           borderpad=0.1, borderaxespad=0)


# ---------------- annotation boxes (axes fraction) ----------------
def label_box(ax_, x0, y0, x1, y1, rx0, ry0, rx1, ry1, text, tx, ty):
    px = 1 / 1608.0
    py = 1 / 579.1
    for k, al in ((4, 0.08), (3, 0.12), (2, 0.16), (1, 0.2)):
        ax_.add_patch(Rectangle((x0 + (k - 1) * px, y0 - k * py), x1 - x0, y1 - y0,
                                transform=ax_.transAxes, facecolor="#808080",
                                edgecolor="none", alpha=al, zorder=8, clip_on=False))
    ax_.add_patch(Rectangle((x0, y0), x1 - x0, y1 - y0, transform=ax_.transAxes,
                            facecolor="white", edgecolor="#eeeeee", lw=0.8,
                            zorder=9, clip_on=False))
    ax_.add_patch(Rectangle((rx0, ry0), rx1 - rx0, ry1 - ry0, transform=ax_.transAxes,
                            facecolor=RED, edgecolor="none", zorder=10, clip_on=False))
    ax_.text(tx, ty, text, transform=ax_.transAxes, ha="center", va="baseline",
             color="white", fontproperties=narrow_fp(box_size, "bold"),
             zorder=11, clip_on=False)


label_box(ax2, 0.8022, 0.8883, 0.9204, 0.9677, 0.8072, 0.9009, 0.9154, 0.9544,
          annotations[0], 0.8613, 0.9095)
label_box(ax2, 0.7245, 0.4014, 0.8427, 0.4808, 0.7293, 0.4156, 0.8377, 0.4692,
          annotations[1], 0.7830, 0.4215)

ax2.add_patch(Ellipse((0.9446, 0.8209), 0.0939, 0.1502, transform=ax2.transAxes,
                      facecolor="none", edgecolor=RED, lw=2.4, zorder=7, clip_on=False))
ax2.add_patch(Ellipse((0.8862, 0.3728), 0.0933, 0.1537, transform=ax2.transAxes,
                      facecolor="none", edgecolor=RED, lw=2.4, zorder=7, clip_on=False))

fig.savefig("out.png", dpi=100, facecolor="white")
